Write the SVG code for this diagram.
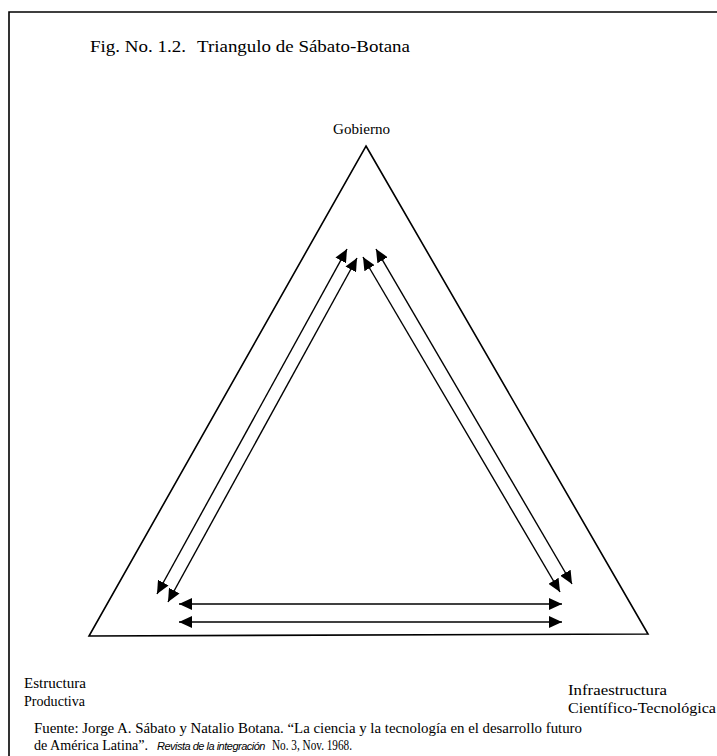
<svg xmlns="http://www.w3.org/2000/svg" width="717" height="756" viewBox="0 0 717 756">
<style>
  .t { font-family: "Liberation Serif", "Times New Roman", serif; fill: #000; }
  .edge { stroke: #000; stroke-width: 1.6; fill: none; }
  .arr { stroke: #000; stroke-width: 1.4; fill: none; marker-start: url(#ah); marker-end: url(#ah); }
</style>
<defs>
  <marker id="ah" markerUnits="userSpaceOnUse" markerWidth="14" markerHeight="12" refX="13" refY="6" orient="auto-start-reverse">
    <path d="M0,0 L13,6 L0,12 Z" fill="#000"/>
  </marker>
</defs>
<rect width="717" height="756" fill="#fff"/>
<path d="M9,800 L9,12 L760,12" class="edge" stroke-width="1.3"/>
<text class="t" x="90" y="52" font-size="17" textLength="96" lengthAdjust="spacingAndGlyphs">Fig. No. 1.2.</text>
<text class="t" x="197" y="52" font-size="17" textLength="213" lengthAdjust="spacingAndGlyphs">Triangulo de Sábato-Botana</text>

<g id="triangle">
  <polygon points="366,146 648,634 89,636" class="edge"/>
</g>
<g id="gobierno">
  <text class="t" x="333" y="134" font-size="14.5" textLength="57" lengthAdjust="spacingAndGlyphs">Gobierno</text>
</g>
<g id="estructura">
  <text class="t" x="24" y="688" font-size="15" textLength="62" lengthAdjust="spacingAndGlyphs">Estructura</text>
  <text class="t" x="24" y="706" font-size="15" textLength="61" lengthAdjust="spacingAndGlyphs">Productiva</text>
</g>
<g id="infraestructura">
  <text class="t" x="568" y="695" font-size="15" textLength="99" lengthAdjust="spacingAndGlyphs">Infraestructura</text>
  <text class="t" x="568" y="713" font-size="15" textLength="148" lengthAdjust="spacingAndGlyphs">Científico-Tecnológica</text>
</g>
<g id="connectors">
  <line class="arr" x1="347" y1="249" x2="157" y2="594"/>
  <line class="arr" x1="357" y1="258" x2="168" y2="602"/>
  <line class="arr" x1="363" y1="257" x2="560" y2="592"/>
  <line class="arr" x1="376" y1="249" x2="572" y2="584"/>
  <line class="arr" x1="179" y1="604" x2="562" y2="604"/>
  <line class="arr" x1="179" y1="622" x2="562" y2="622"/>
</g>
<text class="t" x="34" y="733" font-size="14" textLength="548" lengthAdjust="spacingAndGlyphs">Fuente: Jorge A. Sábato y Natalio Botana. “La ciencia y la tecnología en el desarrollo futuro</text>
<text class="t" x="34" y="750" font-size="14" textLength="114" lengthAdjust="spacingAndGlyphs">de América Latina”.</text>
<text x="157" y="750" font-family="'Liberation Sans', Arial, sans-serif" font-style="italic" font-size="11" letter-spacing="-0.5">Revista de la integración</text>
<text class="t" x="272" y="750" font-size="14" textLength="80" lengthAdjust="spacingAndGlyphs">No. 3, Nov. 1968.</text>
</svg>
